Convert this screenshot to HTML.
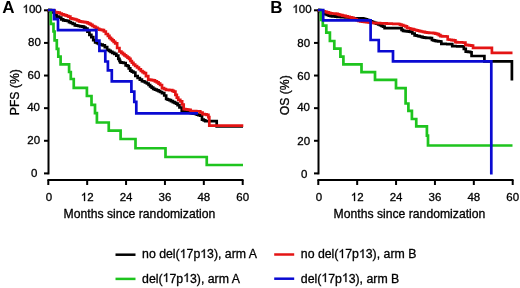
<!DOCTYPE html>
<html><head><meta charset="utf-8"><title>Kaplan-Meier curves</title>
<style>
html,body{margin:0;padding:0;background:#fff;}
body{width:520px;height:288px;overflow:hidden;}
svg{display:block;will-change:transform;}
.t{font-family:"Liberation Sans",sans-serif;font-size:12.2px;fill:#000;stroke:#000;stroke-width:0.3px;}
.n{font-family:"Liberation Sans",sans-serif;font-size:11.5px;fill:#000;stroke:#000;stroke-width:0.3px;}
.g{font-size:12.3px;}
.h{font-family:"Liberation Sans",sans-serif;font-size:17px;font-weight:bold;fill:#000;}
.hid{fill-opacity:0;stroke-opacity:0;}
.one{fill:#000;stroke:#000;stroke-width:0.3px;vector-effect:non-scaling-stroke;}
</style></head>
<body>
<svg width="520" height="288" viewBox="0 0 520 288">
<rect width="520" height="288" fill="#fff"/>
<text x="2.3" y="13" class="h">A</text>
<text x="270.3" y="13" class="h">B</text>
<line x1="48.5" y1="9.3" x2="48.5" y2="174.4" stroke="#000" stroke-width="2"/>
<line x1="44" y1="173.4" x2="48.5" y2="173.4" stroke="#000" stroke-width="2"/>
<text x="34.1" y="177" text-anchor="middle" class="n">0</text>
<line x1="44" y1="140.78" x2="48.5" y2="140.78" stroke="#000" stroke-width="2"/>
<text x="33.7" y="144" text-anchor="middle" class="n">20</text>
<line x1="44" y1="108.16" x2="48.5" y2="108.16" stroke="#000" stroke-width="2"/>
<text x="33.55" y="111" text-anchor="middle" class="n">40</text>
<line x1="44" y1="75.54" x2="48.5" y2="75.54" stroke="#000" stroke-width="2"/>
<text x="34" y="79" text-anchor="middle" class="n">60</text>
<line x1="44" y1="42.92" x2="48.5" y2="42.92" stroke="#000" stroke-width="2"/>
<text x="34.4" y="46" text-anchor="middle" class="n">80</text>
<line x1="44" y1="10.3" x2="48.5" y2="10.3" stroke="#000" stroke-width="2"/>
<text x="32.15" y="13" text-anchor="middle" class="n"><tspan class="hid">1</tspan>00</text>
<line x1="47.4" y1="180" x2="243.5" y2="180" stroke="#000" stroke-width="2"/>
<line x1="48.3" y1="180" x2="48.3" y2="185" stroke="#000" stroke-width="2"/>
<text x="48.9" y="201" text-anchor="middle" class="n">0</text>
<line x1="87.18" y1="180" x2="87.18" y2="185" stroke="#000" stroke-width="2"/>
<text x="87.18" y="201" text-anchor="middle" class="n"><tspan class="hid">1</tspan>2</text>
<line x1="126.06" y1="180" x2="126.06" y2="185" stroke="#000" stroke-width="2"/>
<text x="126.06" y="201" text-anchor="middle" class="n">24</text>
<line x1="164.94" y1="180" x2="164.94" y2="185" stroke="#000" stroke-width="2"/>
<text x="164.94" y="201" text-anchor="middle" class="n">36</text>
<line x1="203.82" y1="180" x2="203.82" y2="185" stroke="#000" stroke-width="2"/>
<text x="203.82" y="201" text-anchor="middle" class="n">48</text>
<line x1="242.7" y1="180" x2="242.7" y2="185" stroke="#000" stroke-width="2"/>
<text x="242.7" y="201" text-anchor="middle" class="n">60</text>
<text x="63.6" y="218" class="t">Months since randomization</text>
<text transform="translate(19.1,115.2) rotate(-90)" class="t">PFS (%)</text>
<line x1="318.5" y1="9.3" x2="318.5" y2="174.4" stroke="#000" stroke-width="2"/>
<line x1="314" y1="173.4" x2="318.5" y2="173.4" stroke="#000" stroke-width="2"/>
<text x="304.1" y="178" text-anchor="middle" class="n">0</text>
<line x1="314" y1="140.78" x2="318.5" y2="140.78" stroke="#000" stroke-width="2"/>
<text x="303.7" y="145" text-anchor="middle" class="n">20</text>
<line x1="314" y1="108.16" x2="318.5" y2="108.16" stroke="#000" stroke-width="2"/>
<text x="303.55" y="111" text-anchor="middle" class="n">40</text>
<line x1="314" y1="75.54" x2="318.5" y2="75.54" stroke="#000" stroke-width="2"/>
<text x="303.7" y="80" text-anchor="middle" class="n">60</text>
<line x1="314" y1="42.92" x2="318.5" y2="42.92" stroke="#000" stroke-width="2"/>
<text x="303.7" y="47" text-anchor="middle" class="n">80</text>
<line x1="314" y1="10.3" x2="318.5" y2="10.3" stroke="#000" stroke-width="2"/>
<text x="302" y="13" text-anchor="middle" class="n"><tspan class="hid">1</tspan>00</text>
<line x1="317.4" y1="180" x2="513.5" y2="180" stroke="#000" stroke-width="2"/>
<line x1="318.3" y1="180" x2="318.3" y2="185" stroke="#000" stroke-width="2"/>
<text x="318.9" y="201" text-anchor="middle" class="n">0</text>
<line x1="357.18" y1="180" x2="357.18" y2="185" stroke="#000" stroke-width="2"/>
<text x="357.18" y="201" text-anchor="middle" class="n"><tspan class="hid">1</tspan>2</text>
<line x1="396.06" y1="180" x2="396.06" y2="185" stroke="#000" stroke-width="2"/>
<text x="396.06" y="201" text-anchor="middle" class="n">24</text>
<line x1="434.94" y1="180" x2="434.94" y2="185" stroke="#000" stroke-width="2"/>
<text x="434.94" y="201" text-anchor="middle" class="n">36</text>
<line x1="473.82" y1="180" x2="473.82" y2="185" stroke="#000" stroke-width="2"/>
<text x="473.82" y="201" text-anchor="middle" class="n">48</text>
<line x1="512.7" y1="180" x2="512.7" y2="185" stroke="#000" stroke-width="2"/>
<text x="512.7" y="201" text-anchor="middle" class="n">60</text>
<text x="333.6" y="218" class="t">Months since randomization</text>
<text transform="translate(289.1,115.2) rotate(-90)" class="t">OS (%)</text>
<path d="M48,10 H49 V10.83 H51 V11.67 H53 V12.5 H54 H54.7 V14.9 H55.4 H56.55 V16.6 H57.7 H59.05 V17.7 H60.4 H61.25 V19.3 H62.1 H63.2 V20.4 H64.3 H65.28 V20.7 H67.22 V21 H68.2 H69 V22.2 H69.8 H70.78 V23 H72.72 V23.8 H73.7 H74.85 V25.3 H76 H76.75 V25.65 H78.25 V26 H79 H80.08 V26.3 H82.22 V26.6 H83.3 H84.05 V27.6 H85.55 V28.6 H86.3 H87.45 V31.7 H88.6 H89.4 V34.8 H90.2 H91.35 V37.1 H92.5 H93.25 V40.2 H94 H95.15 V42.5 H96.3 H97.08 V43.25 H98.62 V44 H99.4 H100.48 V44.65 H102.62 V45.3 H103.7 H104.85 V47.2 H106 H107.15 V49.9 H108.3 H109.08 V50.85 H110.62 V51.8 H111.4 H112.35 V52.8 H114.25 V53.8 H115.2 H116.35 V55.7 H117.5 H118.3 V58.8 H119.1 H119.45 V60.8 H119.8 H120.2 V62.3 H120.6 H121.57 V62.65 H123.53 V63 H124.5 H125.65 V65.4 H126.8 H127.4 V66 H128 H128.75 V68.3 H130.25 V70.6 H131 H131.8 V71.55 H133.4 V72.5 H134.2 H135.35 V76 H136.5 H137.65 V78 H138.8 H139.85 V79.62 H141.95 V81.25 H143 H143.5 V81.5 H144 H144.95 V82.5 H146.85 V83.5 H147.8 H148.58 V85 H150.12 V86.5 H150.9 H151.68 V87.65 H153.22 V88.8 H154 H154.95 V89.6 H156.85 V90.4 H157.8 H158.58 V91.2 H160.12 V92 H160.9 H162 V93.2 H163.1 H164.25 V95.5 H165.4 H166.15 V99 H166.9 H167.68 V99.6 H169.22 V100.2 H170 H170.95 V101.15 H172.85 V102.1 H173.8 H174.58 V102.85 H176.12 V103.6 H176.9 H177.6 V105.2 H178.3 H179.45 V107.5 H180.6 H181.75 V110.6 H182.9 H183.68 V111.3 H185.22 V112 H186 H186.83 V112.33 H188.5 V112.67 H190.17 V113 H191.83 V113.33 H193.5 V113.67 H195.17 V114 H196 H196.83 V114.53 H198.5 V115.07 H200.17 V115.6 H201 H202 V119.6 H203 H203.75 V120.35 H205.25 V121.1 H206 H216.7 V126.4 H243" stroke="#000000" stroke-width="2.7" fill="none" />
<path d="M48,10 H49 V10.17 H51 V10.33 H53 V10.5 H54 H54.7 V12.1 H55.4 H56.25 V12.4 H57.95 V12.7 H58.8 H59.77 V13.5 H61.73 V14.3 H62.7 H63.53 V14.85 H65.17 V15.4 H66 H66.83 V16 H68.47 V16.6 H69.3 H70.35 V18.4 H71.4 H72.17 V18.77 H73.7 V19.13 H75.23 V19.5 H76 H77 V20.4 H79 V21.3 H80 H80.83 V21.55 H82.47 V21.8 H83.3 H84.15 V22.1 H85.85 V22.4 H86.7 H87.53 V23.1 H89.17 V23.8 H90 H90.83 V24.9 H92.47 V26 H93.3 H94.15 V26.95 H95.85 V27.9 H96.7 H97.53 V28.75 H99.17 V29.6 H100 H100.83 V29.9 H102.47 V30.2 H103.3 H103.9 V31.5 H104.5 H105.8 V34 H107.1 H107.88 V35.9 H109.42 V37.8 H110.2 H110.88 V39.05 H112.23 V40.3 H112.9 H113.68 V41.85 H115.22 V43.4 H116 H117.15 V48 H118.3 H119.45 V51.5 H120.6 H121.38 V52.85 H122.92 V54.2 H123.7 H124.47 V55.35 H126.03 V56.5 H126.8 H127.55 V57.65 H129.05 V58.8 H129.8 H130.45 V61 H131.1 H131.88 V62.75 H133.42 V64.5 H134.2 H135.15 V66 H137.05 V67.5 H138 H138.95 V69.25 H140.85 V71 H141.8 H142.55 V72.05 H144.05 V73.1 H144.8 H145.95 V76.2 H147.1 H148.25 V79.6 H149.4 H150.17 V79.87 H151.7 V80.13 H153.23 V80.4 H154 H154.95 V81.35 H156.85 V82.3 H157.8 H158.58 V83.65 H160.12 V85 H160.9 H162 V88.2 H163.1 H164.05 V89 H165.95 V89.8 H166.9 H167.67 V89.93 H169.2 V90.07 H170.73 V90.2 H171.5 H172.28 V90.95 H173.82 V91.7 H174.6 H175.4 V94.8 H176.2 H176.8 V97.6 H177.4 H178.25 V99.8 H179.1 H180.25 V101.4 H181.4 H182.15 V104.5 H182.9 H183.7 V109.1 H184.5 H185.38 V109.33 H187.15 V109.57 H188.92 V109.8 H189.8 H190.6 V111 H191.4 H192.36 V111.1 H194.29 V111.2 H196.21 V111.3 H198.14 V111.4 H199.1 H200.25 V112.5 H201.4 H202.55 V114.1 H203.7 H204.65 V114.45 H206.55 V114.8 H207.5 H208.4 V117.2 H209.3 V125.6 H243.3" stroke="#e41414" stroke-width="2.7" fill="none" />
<path d="M48,10 H50.8 V23.8 H53.5 V31.5 H54.6 V40.3 H56.8 V48.8 H58.3 V56.7 H60.6 V64.4 H69.1 V72 H70.8 V79 H73.75 V87.9 H86.9 V96 H91.5 V104.9 H95 V113.1 H96.9 V122.5 H108.75 V130.6 H120.6 V139 H135.5 V148.25 H165.5 V157 H206.75 V165 H243" stroke="#1ec41e" stroke-width="2.7" fill="none" />
<path d="M48,10 H54 V19.2 H58 V30.2 H96.4 V40.6 H99.4 V50.9 H105.3 V61.5 H107.9 V70.3 H111.8 V81.4 H131.4 V91.6 H134.3 V101.9 H136.3 V113.4 H198" stroke="#0a0ad2" stroke-width="2.7" fill="none" />
<path d="M318,10 H319 V10.9 H321 V11.8 H322 H323 V13.2 H324 H324.95 V14.1 H326.85 V15 H327.8 H328.77 V15.6 H330.73 V16.2 H331.7 H332.47 V16.33 H334 V16.47 H335.53 V16.6 H336.3 H337.23 V16.8 H339.07 V17 H340 H341 V17.12 H343 V17.25 H345 V17.38 H347 V17.5 H348 H349.12 V17.85 H351.38 V18.2 H352.5 H353.23 V18.3 H354.67 V18.4 H355.4 H362.3 H363.25 V18.93 H365.15 V19.47 H367.05 V20 H368 H368.83 V20.73 H370.5 V21.47 H372.17 V22.2 H373 H374.03 V22.93 H376.1 V23.67 H378.17 V24.4 H379.2 H379.97 V25.17 H381.5 V25.93 H383.03 V26.7 H383.8 H384.6 V28.2 H385.4 H400.8 H401.55 V29.8 H402.3 H403.05 V30.9 H403.8 H404.83 V31.17 H406.9 V31.43 H408.97 V31.7 H410 H410.6 V31.9 H411.2 H412.35 V33.5 H413.5 H414.65 V35.4 H415.8 H416.57 V35.77 H418.1 V36.13 H419.63 V36.5 H420.4 H421.17 V36.9 H422.7 V37.3 H424.23 V37.7 H425 H426.03 V37.83 H428.1 V37.97 H430.17 V38.1 H431.2 H431.95 V40 H432.7 H433.47 V40.4 H435 V40.8 H436.53 V41.2 H437.3 H438.27 V41.35 H440.23 V41.5 H441.2 H441.35 V43.8 H441.5 H442.33 V43.87 H444 V43.93 H445.67 V44 H447.33 V44.07 H449 V44.13 H450.67 V44.2 H451.5 H452.25 V46.1 H453 H453.84 V46.17 H455.52 V46.23 H457.21 V46.3 H458.89 V46.37 H460.58 V46.43 H462.26 V46.5 H463.1 H463.85 V48.8 H464.6 H465.75 V51.6 H466.9 H467.99 V51.92 H470.16 V52.25 H471.25 H471.57 V56 H471.9 H484.4 V61.3 H511.9 V80.4" stroke="#000000" stroke-width="2.7" fill="none" />
<path d="M318,10 H319 V10.47 H321 V10.93 H323 V11.4 H324 H324.95 V11.85 H326.85 V12.3 H327.8 H328.6 V12.8 H330.2 V13.3 H331 H332 V13.5 H334 V13.7 H336 V13.9 H337 H337.75 V14.35 H339.25 V14.8 H340 H340.8 V15.17 H342.4 V15.53 H344 V15.9 H344.8 H345.75 V16.35 H347.65 V16.8 H348.6 H349.58 V17.3 H351.52 V17.8 H352.5 H353.34 V18.6 H355.01 V19.4 H356.69 V20.2 H358.36 V21 H359.2 H360.18 V21.3 H362.12 V21.6 H364.07 V21.9 H366.02 V22.2 H367 H367.95 V22.4 H369.85 V22.6 H371.75 V22.8 H373.65 V23 H374.6 H375.37 V23.07 H376.9 V23.13 H378.43 V23.2 H379.2 H380.03 V23.27 H381.7 V23.33 H383.37 V23.4 H385.03 V23.47 H386.7 V23.53 H388.37 V23.6 H389.2 H390.03 V23.67 H391.7 V23.73 H393.37 V23.8 H395.03 V23.87 H396.7 V23.93 H398.37 V24 H399.2 H399.98 V24.6 H401.52 V25.2 H402.3 H403.27 V25.75 H405.23 V26.3 H406.2 H406.95 V27.8 H407.7 H408.53 V28.27 H410.2 V28.73 H411.87 V29.2 H412.7 H413.47 V29.6 H415 V30 H416.53 V30.4 H417.3 H418.07 V30.77 H419.6 V31.13 H421.13 V31.5 H421.9 H422.92 V31.9 H424.95 V32.3 H426.98 V32.7 H428 H429.03 V32.83 H431.1 V32.97 H433.17 V33.1 H434.2 H435.18 V33.65 H437.12 V34.2 H438.1 H438.88 V35.2 H440.43 V36.2 H441.2 H442.15 V36.3 H444.05 V36.4 H445.95 V36.5 H446.9 H447.7 V39.5 H448.5 H449.52 V39.77 H451.55 V40.03 H453.58 V40.3 H454.6 H455.4 V42.2 H456.2 H457.04 V42.28 H458.72 V42.36 H460.4 V42.44 H462.08 V42.52 H463.76 V42.6 H464.6 H465.4 V44.9 H466.2 H467.22 V45.17 H469.25 V45.43 H471.28 V45.7 H472.3 H473.05 V47.8 H473.8 H474.7 V47.81 H476.51 V47.82 H478.32 V47.83 H480.13 V47.84 H481.94 V47.85 H483.75 V47.86 H485.56 V47.87 H487.38 V47.88 H489.19 V47.89 H491 V47.9 H491.9 V52.9 H512.5" stroke="#e41414" stroke-width="2.7" fill="none" />
<path d="M318,10 H320.9 V20 H322.8 V25.7 H326.3 V32.6 H329.9 V41 H334.3 V48.7 H340.4 V56.6 H343.4 V64.3 H361.5 V72.1 H375 V79.8 H396 V88.1 H405.6 V103.5 H408.4 V110.9 H411.9 V119 H416.25 V126.4 H426.9 V135.6 H428 V145.5 H512.5" stroke="#1ec41e" stroke-width="2.7" fill="none" />
<path d="M318,10 H323.2 V20.3 H370.6 V40 H378.75 V51.25 H393 V61.4 H491.3 V174.6" stroke="#0a0ad2" stroke-width="2.7" fill="none" />
<line x1="115.5" y1="254.7" x2="135.5" y2="254.7" stroke="#000000" stroke-width="2.5"/><text x="142.1" y="258.1" class="t g">no del(<tspan class="hid">1</tspan>7p<tspan class="hid">1</tspan>3), arm A</text>
<line x1="274.2" y1="254.5" x2="294.2" y2="254.5" stroke="#e41414" stroke-width="2.5"/><text x="300.8" y="258.1" class="t g">no del(<tspan class="hid">1</tspan>7p<tspan class="hid">1</tspan>3), arm B</text>
<line x1="115.5" y1="278.9" x2="135.5" y2="278.9" stroke="#1ec41e" stroke-width="2.5"/><text x="142.1" y="282.5" class="t g">del(<tspan class="hid">1</tspan>7p<tspan class="hid">1</tspan>3), arm A</text>
<line x1="274.2" y1="278.7" x2="294.2" y2="278.7" stroke="#0a0ad2" stroke-width="2.5"/><text x="300.8" y="282.5" class="t g">del(<tspan class="hid">1</tspan>7p<tspan class="hid">1</tspan>3), arm B</text>
<path class="one" transform="translate(22.55,13) scale(0.005615,-0.005615)" d="M763 0H583V1147C540 1106 483 1065 413 1024C343 983 280 952 223 930V1104C315 1147 395 1199 463 1260C531 1321 579 1380 607 1466H763Z"/>
<path class="one" transform="translate(80.77,201) scale(0.005615,-0.005615)" d="M763 0H583V1147C540 1106 483 1065 413 1024C343 983 280 952 223 930V1104C315 1147 395 1199 463 1260C531 1321 579 1380 607 1466H763Z"/>
<path class="one" transform="translate(292.4,13) scale(0.005615,-0.005615)" d="M763 0H583V1147C540 1106 483 1065 413 1024C343 983 280 952 223 930V1104C315 1147 395 1199 463 1260C531 1321 579 1380 607 1466H763Z"/>
<path class="one" transform="translate(350.77,201) scale(0.005615,-0.005615)" d="M763 0H583V1147C540 1106 483 1065 413 1024C343 983 280 952 223 930V1104C315 1147 395 1199 463 1260C531 1321 579 1380 607 1466H763Z"/>
<path class="one" transform="translate(179.71,258) scale(0.006006,-0.006006)" d="M763 0H583V1147C540 1106 483 1065 413 1024C343 983 280 952 223 930V1104C315 1147 395 1199 463 1260C531 1321 579 1380 607 1466H763Z"/>
<path class="one" transform="translate(200.24,258) scale(0.006006,-0.006006)" d="M763 0H583V1147C540 1106 483 1065 413 1024C343 983 280 952 223 930V1104C315 1147 395 1199 463 1260C531 1321 579 1380 607 1466H763Z"/>
<path class="one" transform="translate(338.41,258) scale(0.006006,-0.006006)" d="M763 0H583V1147C540 1106 483 1065 413 1024C343 983 280 952 223 930V1104C315 1147 395 1199 463 1260C531 1321 579 1380 607 1466H763Z"/>
<path class="one" transform="translate(358.94,258) scale(0.006006,-0.006006)" d="M763 0H583V1147C540 1106 483 1065 413 1024C343 983 280 952 223 930V1104C315 1147 395 1199 463 1260C531 1321 579 1380 607 1466H763Z"/>
<path class="one" transform="translate(162.62,282) scale(0.006006,-0.006006)" d="M763 0H583V1147C540 1106 483 1065 413 1024C343 983 280 952 223 930V1104C315 1147 395 1199 463 1260C531 1321 579 1380 607 1466H763Z"/>
<path class="one" transform="translate(183.15,282) scale(0.006006,-0.006006)" d="M763 0H583V1147C540 1106 483 1065 413 1024C343 983 280 952 223 930V1104C315 1147 395 1199 463 1260C531 1321 579 1380 607 1466H763Z"/>
<path class="one" transform="translate(321.32,282) scale(0.006006,-0.006006)" d="M763 0H583V1147C540 1106 483 1065 413 1024C343 983 280 952 223 930V1104C315 1147 395 1199 463 1260C531 1321 579 1380 607 1466H763Z"/>
<path class="one" transform="translate(341.85,282) scale(0.006006,-0.006006)" d="M763 0H583V1147C540 1106 483 1065 413 1024C343 983 280 952 223 930V1104C315 1147 395 1199 463 1260C531 1321 579 1380 607 1466H763Z"/>
</svg>
</body></html>
